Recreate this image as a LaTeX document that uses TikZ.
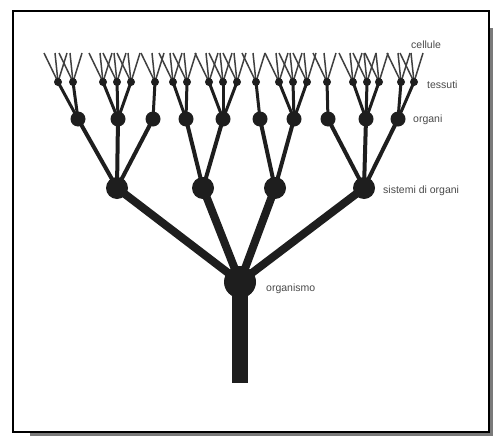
\documentclass[tikz,border=0pt]{standalone}
\usepackage{fontspec}
\setmainfont{Liberation Sans}
\usetikzlibrary{backgrounds}
\definecolor{neroalbero}{HTML}{1E1E1E}
\definecolor{grigiotesto}{HTML}{4A4A4A}
\definecolor{grigioombra}{HTML}{7A7A7A}
\colorlet{colAlbero}{neroalbero}
\colorlet{colTesto}{grigiotesto}
\colorlet{colOmbra}{grigioombra}
\tikzset{
  nodoBase/.style={circle, fill=colAlbero, inner sep=0pt},
  nodoOrganismo/.style={nodoBase, minimum size=32pt},
  nodoSistema/.style={nodoBase, minimum size=22pt},
  nodoOrgano/.style={nodoBase, minimum size=15pt},
  nodoTessuto/.style={nodoBase, minimum size=8pt},
  ramoTronco/.style={line width=16pt, colAlbero},
  ramoSistema/.style={line width=8pt, colAlbero},
  ramoOrgano/.style={line width=4pt, colAlbero},
  ramoTessuto/.style={line width=3pt, colAlbero},
  ramoCellula/.style={line width=1.5pt, colAlbero!85},
  etichetta/.style={font=\fontsize{10.5}{12}\selectfont, text=colTesto,
    anchor=west, inner sep=0pt},
}

\begin{document}
\begin{tikzpicture}[x=1pt, y=-1pt]
    \useasboundingbox (0,0) rectangle (494,436);
    % cornice con ombra
    \begin{scope}[on background layer]
      \fill[colOmbra] (30,28) rectangle (493,436);
      \draw[fill=white, line width=1.4pt] (13,11) rectangle (489,432);
    \end{scope}

    % organismo e tronco
    \node[nodoOrganismo] (org) at (240,282) {};
    \coordinate (base) at (240,383);
    \begin{scope}[on background layer]
      \draw[ramoTronco] (org.center) -- (base);
    \end{scope}

    % sistemi di organi
    \foreach \x [count=\i] in {117,203,275,364} {
      \node[nodoSistema] (s\i) at (\x,188) {};
      \begin{scope}[on background layer]
        \draw[ramoSistema] (org.center) -- (s\i.center);
      \end{scope}
    }

    % organi
    \foreach \x/\p [count=\i] in {78/1,118/1,153/1,186/2,223/2,
                                  260/3,294/3,328/4,366/4,398/4} {
      \node[nodoOrgano] (o\i) at (\x,119) {};
      \begin{scope}[on background layer]
        \draw[ramoOrgano] (s\p.center) -- (o\i.center);
      \end{scope}
    }

    % tessuti e cellule
    \foreach \x/\p [count=\i] in {58/1,73/1,103/2,117/2,131/2,155/3,
                                  173/4,187/4,209/5,223/5,237/5,256/6,
                                  279/7,293/7,307/7,327/8,353/9,367/9,
                                  379/9,401/10,414/10} {
      \node[nodoTessuto] (t\i) at (\x,82) {};
      \begin{scope}[on background layer]
        \draw[ramoTessuto] (o\p.center) -- (t\i.center);
        \foreach \d [count=\k] in {-14,-3,9} {
          \coordinate (c\i-\k) at (\x+\d,53);
          \draw[ramoCellula] (t\i.center) -- (c\i-\k);
        }
      \end{scope}
    }

    % etichette
    \node[etichetta] (lCellule) at (411,45) {cellule};
    \node[etichetta] (lTessuti) at (427,85) {tessuti};
    \node[etichetta] (lOrgani) at (413,120) {organi};
    \node[etichetta] (lSistemi) at (383,191) {sistemi di organi};
    \node[etichetta] (lOrganismo) at (266,289) {organismo};
  \end{tikzpicture}
\end{document}
